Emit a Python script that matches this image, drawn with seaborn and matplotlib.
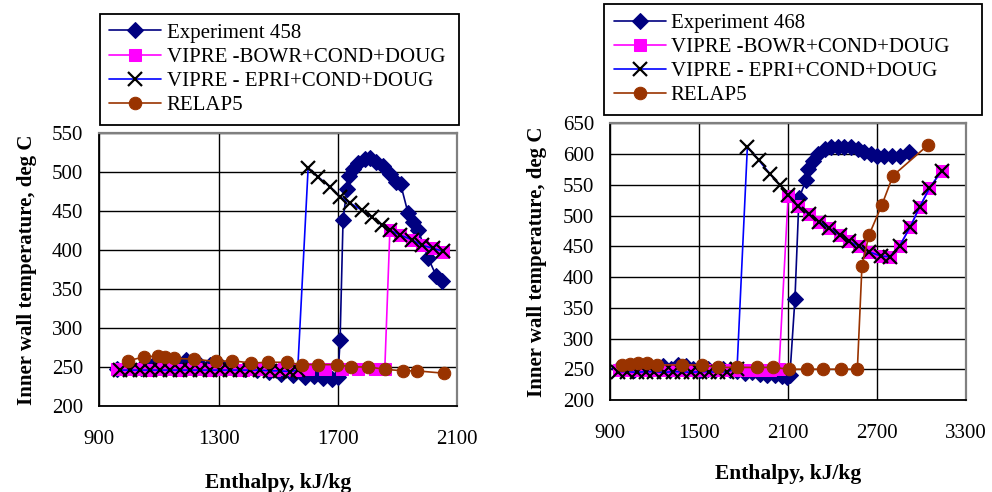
import matplotlib
matplotlib.use("Agg")
import matplotlib.pyplot as plt
import seaborn as sns

# ---- Experiment 458 panel ----
exp458_h = [960, 1000, 1040, 1080, 1120, 1160, 1190, 1230, 1270, 1310, 1350, 1390,
            1430, 1470, 1510, 1550, 1590, 1620, 1650, 1680, 1700, 1707, 1717, 1730,
            1737, 1750, 1767, 1789, 1806, 1828, 1851, 1873, 1895, 1910, 1935, 1951,
            1968, 2002, 2030, 2048]
exp458_t = [248, 250, 249, 252, 253, 256, 259, 255, 252, 250, 249, 248,
            246, 244, 241, 240, 237, 238, 236, 234, 237, 284, 438, 478,
            494, 503, 511, 516, 517, 513, 507, 497, 487, 484, 447, 436,
            426, 390, 366, 360]

bowr458_h = [960, 995, 1030, 1065, 1100, 1135, 1170, 1205, 1240, 1275, 1310, 1345,
             1380, 1415, 1450, 1485, 1520, 1555, 1600, 1656, 1713, 1768, 1824, 1857,
             1874, 1908, 1947, 1980, 2019, 2053]
bowr458_t = [247, 247, 247, 246, 247, 247, 246, 247, 247, 246, 247, 247,
             246, 247, 247, 246, 247, 246, 247, 247, 247, 247, 247, 248,
             425, 419, 413, 406, 402, 397]

epri458_h = [970, 1003, 1037, 1070, 1104, 1137, 1171, 1204, 1238, 1271, 1305, 1338,
             1372, 1405, 1439, 1472, 1506, 1539, 1565, 1600, 1634, 1673, 1707, 1740,
             1779, 1813, 1846, 1874, 1908, 1947, 1980, 2019, 2053]
epri458_t = [246, 246, 246, 246, 246, 246, 246, 246, 246, 246, 246, 246,
             246, 246, 246, 245, 245, 244, 246, 505, 493, 481, 468, 460,
             451, 442, 432, 425, 419, 413, 406, 402, 398]

relap458_h = [997, 1051, 1098, 1120, 1151, 1217, 1290, 1346, 1408, 1467, 1528, 1578,
              1634, 1696, 1744, 1802, 1858, 1919, 1964, 2055]
relap458_t = [258, 263, 264, 263, 261, 260, 257, 258, 255, 256, 256, 253,
              253, 253, 250, 250, 247, 245, 245, 242]

# ---- Experiment 468 panel ----
exp468_h = [960, 1010, 1060, 1110, 1160, 1210, 1260, 1310, 1360, 1410, 1460, 1510,
            1560, 1610, 1660, 1710, 1760, 1810, 1860, 1910, 1960, 2010, 2060, 2095,
            2114, 2148, 2175, 2222, 2238, 2271, 2304, 2349, 2393, 2438, 2482, 2527,
            2571, 2616, 2660, 2704, 2749, 2804, 2860, 2915]
exp468_t = [252, 252, 249, 251, 250, 253, 256, 251, 257, 255, 251, 249,
            250, 248, 251, 249, 247, 244, 245, 242, 240, 240, 239, 238,
            241, 365, 528, 557, 576, 589, 600, 608, 611, 611, 611, 612,
            608, 604, 600, 597, 597, 597, 597, 603]

bowr468_h = [960, 1020, 1080, 1140, 1200, 1260, 1320, 1380, 1440, 1500, 1560, 1620,
             1680, 1740, 1800, 1860, 1920, 1980, 2040, 2102, 2171, 2242, 2311, 2378,
             2449, 2511, 2582, 2649, 2727, 2789, 2855, 2927, 2989, 3055, 3138]
bowr468_t = [248, 248, 248, 248, 248, 248, 248, 248, 248, 248, 248, 248,
             248, 248, 248, 248, 248, 248, 250, 532, 515, 502, 490, 479,
             469, 458, 450, 441, 434, 433, 451, 482, 514, 544, 573]

epri468_h = [956, 1018, 1080, 1140, 1200, 1262, 1322, 1384, 1446, 1506, 1566, 1628,
             1690, 1757, 1827, 1904, 1978, 2049, 2102, 2171, 2242, 2311, 2378, 2449,
             2511, 2582, 2649, 2727, 2789, 2855, 2927, 2989, 3055, 3138]
epri468_t = [246, 246, 245, 246, 246, 245, 246, 246, 245, 246, 246, 245,
             246, 250, 612, 590, 568, 549, 533, 515, 502, 490, 479, 469,
             458, 450, 441, 434, 433, 451, 482, 514, 544, 573]

relap468_h = [979, 1035, 1091, 1148, 1215, 1384, 1519, 1631, 1759, 1890, 2002, 2110,
              2227, 2339, 2459, 2569, 2600, 2647, 2734, 2810, 3043]
relap468_t = [257, 259, 260, 260, 257, 257, 257, 253, 253, 253, 253, 250,
              250, 250, 250, 250, 418, 468, 517, 565, 614]

label_bowr = "VIPRE -BOWR+COND+DOUG"
label_epri = "VIPRE - EPRI+COND+DOUG"
label_relap = "RELAP5"

x_ticks_458 = [900, 1300, 1700, 2100]
y_ticks_458 = [200, 250, 300, 350, 400, 450, 500, 550]
x_ticks_468 = [900, 1500, 2100, 2700, 3300]
y_ticks_468 = [200, 250, 300, 350, 400, 450, 500, 550, 600, 650]

sns.set_theme(style="white")
plt.rcParams["font.family"] = ["Liberation Serif", "DejaVu Serif"]

NAVY = "#000080"
MAGENTA = "#FF00FF"
BLUE = "#0000FF"
BROWN = "#993300"

fig = plt.figure(figsize=(9.92, 4.92), dpi=100)
ax1 = fig.add_axes([0.1001, 0.1748, 0.3609, 0.5555])
ax2 = fig.add_axes([0.6149, 0.1870, 0.3586, 0.5624])


def draw_panel(ax, exp_h, exp_t, exp_label, bowr_h, bowr_t, epri_h, epri_t,
               relap_h, relap_t, xticks, yticks, xlabelpad):
    common = dict(ax=ax, sort=False, estimator=None, linewidth=1.2)
    sns.lineplot(x=exp_h, y=exp_t, color=NAVY, marker="D", markersize=8.5,
                 markeredgecolor=NAVY, label=exp_label, **common)
    sns.lineplot(x=bowr_h, y=bowr_t, color=MAGENTA, marker="s", markersize=8,
                 markeredgecolor=MAGENTA, label=label_bowr, **common)
    sns.lineplot(x=epri_h, y=epri_t, color=BLUE, marker="x", markersize=10,
                 markeredgecolor="black", markeredgewidth=1.6, label=label_epri,
                 **common)
    sns.lineplot(x=relap_h, y=relap_t, color=BROWN, marker="o", markersize=9,
                 markeredgecolor=BROWN, label=label_relap, **common)

    ax.set_xlim(xticks[0], xticks[-1])
    ax.set_ylim(yticks[0], yticks[-1])
    ax.set_xticks(xticks)
    ax.set_yticks(yticks)
    ax.grid(True, color="black", linewidth=1.0)
    ax.set_axisbelow(True)
    ax.tick_params(axis="both", direction="inout", length=7, width=1.1,
                   color="black", labelsize=15, labelcolor="black")
    ax.tick_params(axis="x", pad=14)
    ax.tick_params(axis="y", pad=8)
    for side in ("left", "bottom"):
        ax.spines[side].set_color("black")
        ax.spines[side].set_linewidth(1.3)
    for side in ("top", "right"):
        ax.spines[side].set_color("#808080")
        ax.spines[side].set_linewidth(1.6)
    ax.set_xlabel("Enthalpy, kJ/kg", fontsize=15.5, fontweight="bold",
                  color="black", labelpad=xlabelpad)
    ax.set_ylabel("Inner wall temperature, deg C", fontsize=15,
                  fontweight="bold", color="black", labelpad=11)


draw_panel(ax1, exp458_h, exp458_t, "Experiment 458", bowr458_h, bowr458_t,
           epri458_h, epri458_t, relap458_h, relap458_t, x_ticks_458, y_ticks_458,
           17)
draw_panel(ax2, exp468_h, exp468_t, "Experiment 468", bowr468_h, bowr468_t,
           epri468_h, epri468_t, relap468_h, relap468_t, x_ticks_468, y_ticks_468,
           15)


def place_legend(ax, box):
    leg = ax.legend(loc="upper left", bbox_to_anchor=box,
                    bbox_transform=fig.transFigure, mode="expand",
                    fontsize=15, frameon=True, fancybox=False, framealpha=1,
                    edgecolor="black", handlelength=2.5, handletextpad=0.25,
                    labelspacing=0.22, borderpad=0.45, borderaxespad=0.0)
    leg.get_frame().set_linewidth(1.3)
    for t in leg.get_texts():
        t.set_color("black")


place_legend(ax1, (0.1008, 0.972, 0.362, 0.0))
place_legend(ax2, (0.609, 0.992, 0.381, 0.0))

fig.savefig("out.png", dpi=100, facecolor="white")
